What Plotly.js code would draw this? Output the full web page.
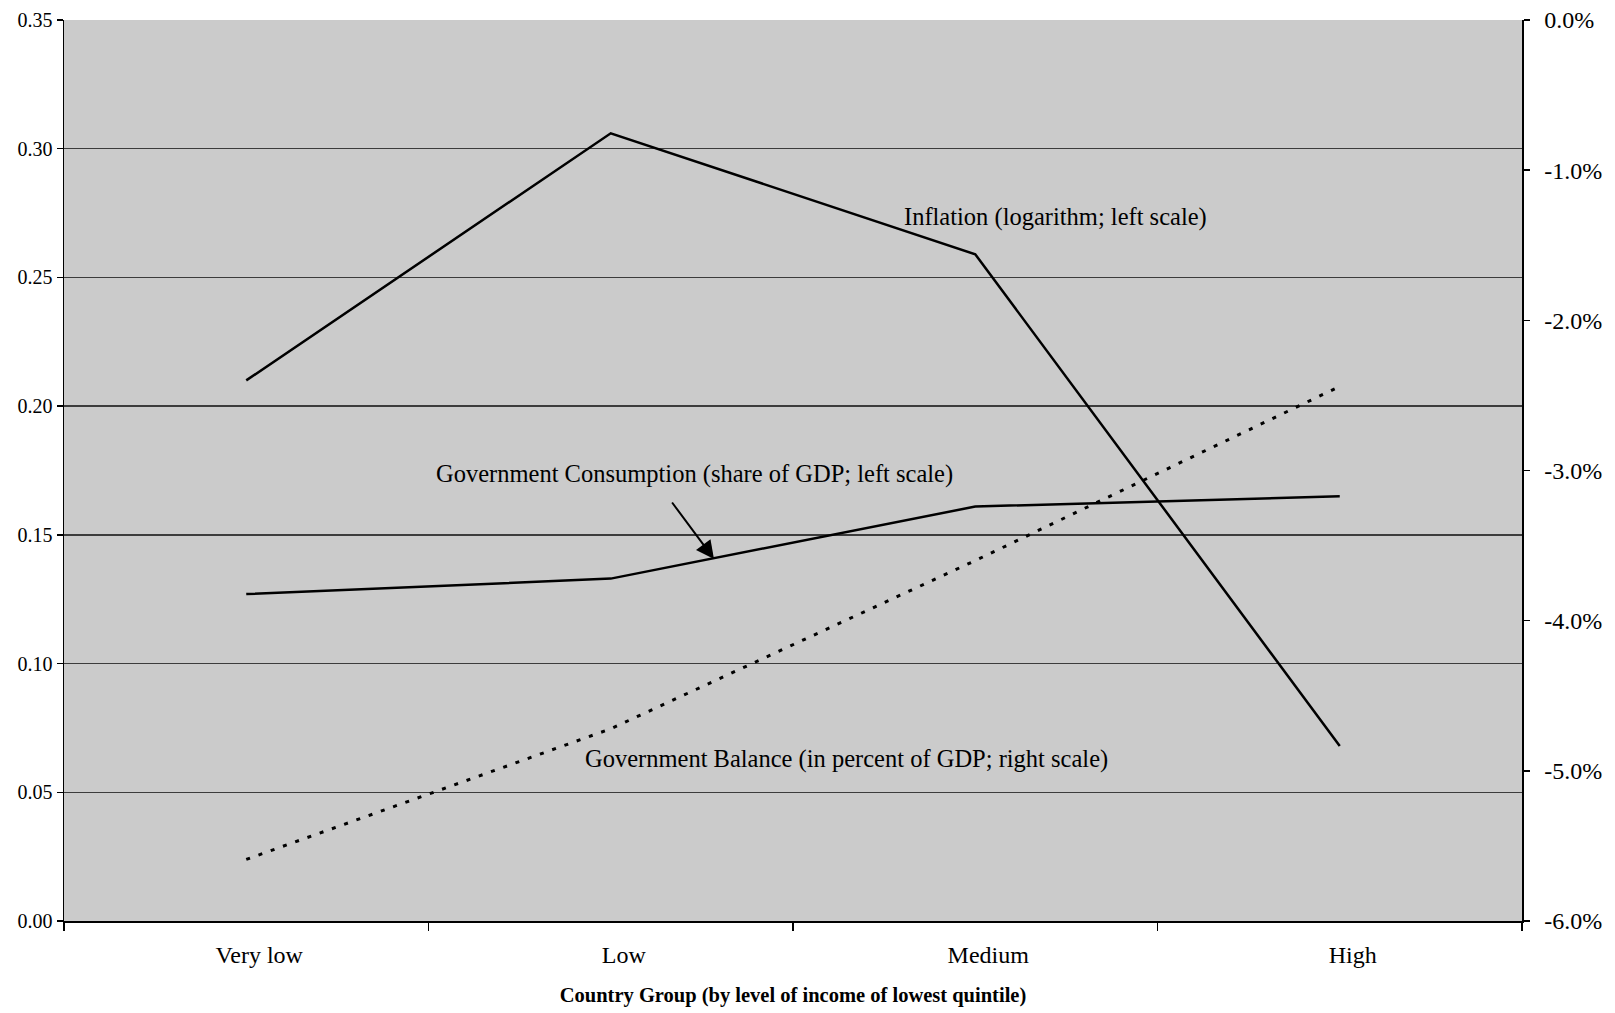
<!DOCTYPE html>
<html>
<head>
<meta charset="utf-8">
<script src="https://cdn.plot.ly/plotly-3.0.1.min.js"></script>
<style>
  html, body { margin: 0; padding: 0; background: #ffffff; }
  #chart { width: 1615px; height: 1013px; }
</style>
</head>
<body>
<div id="chart"></div>
<script>
// Country groups, ordered by income level of the lowest quintile
const categories = ['Very low', 'Low', 'Medium', 'High'];

// Left scale series
const inflation = [0.210, 0.306, 0.259, 0.068];        // logarithm of inflation
const govConsumption = [0.127, 0.133, 0.161, 0.165];   // share of GDP

// Right scale series (percent of GDP)
const govBalance = [-5.59, -4.72, -3.60, -2.44];

// Axis ticks
const leftTickVals = [0, 0.05, 0.10, 0.15, 0.20, 0.25, 0.30, 0.35];
const leftTickText = ['0.00', '0.05', '0.10', '0.15', '0.20', '0.25', '0.30', '0.35'];
const rightTickVals = [-6, -5, -4, -3, -2, -1, 0];
const rightTickText = ['-6.0%', '-5.0%', '-4.0%', '-3.0%', '-2.0%', '-1.0%', '0.0%'];

const serif = 'Liberation Serif, Times New Roman, serif';

const traces = [
  {
    x: categories, y: inflation, type: 'scatter', mode: 'lines',
    name: 'Inflation (logarithm; left scale)',
    line: { color: '#000000', width: 2.5 }, yaxis: 'y'
  },
  {
    x: categories, y: govConsumption, type: 'scatter', mode: 'lines',
    name: 'Government Consumption (share of GDP; left scale)',
    line: { color: '#000000', width: 2.5 }, yaxis: 'y'
  },
  {
    x: categories, y: govBalance, type: 'scatter', mode: 'lines',
    name: 'Government Balance (in percent of GDP; right scale)',
    line: { color: '#000000', width: 3, dash: '4px,9px' }, yaxis: 'y2'
  }
];

// Free-standing series labels, placed in plot-area fractions
const labelFont = { family: serif, size: 24.5, color: '#000000' };
function seriesLabel(text, x, y) {
  return { text: text, xref: 'paper', yref: 'paper', x: x, y: y,
           xanchor: 'center', yanchor: 'middle', showarrow: false, font: labelFont };
}

const layout = {
  width: 1615, height: 1013,
  margin: { l: 64, r: 93, t: 20, b: 92 },
  paper_bgcolor: '#ffffff',
  plot_bgcolor: '#cbcbcb',
  showlegend: false,
  font: { family: serif, color: '#000000' },
  xaxis: {
    type: 'category', range: [-0.5, 3.5],
    showline: true, linecolor: '#000000', linewidth: 1.5,
    ticks: 'outside', tickson: 'boundaries', ticklen: 8, tickcolor: '#000000', tickwidth: 1.5,
    showgrid: false, zeroline: false,
    tickfont: { family: serif, size: 24, color: '#000000' },
    ticklabelshift: 13, ticklabelstandoff: 12,
    title: { text: '<b>Country Group (by level of income of lowest quintile)</b>',
             font: { family: serif, size: 20.5, color: '#000000' }, standoff: 20 }
  },
  yaxis: {
    range: [0, 0.35], tickmode: 'array', tickvals: leftTickVals, ticktext: leftTickText,
    showline: true, linecolor: '#000000', linewidth: 1.5,
    ticks: 'outside', ticklen: 6, tickcolor: '#000000', tickwidth: 1.5,
    showgrid: true, gridcolor: '#3c3c3c', gridwidth: 1.3, zeroline: false,
    tickfont: { family: serif, size: 20, color: '#000000' }
  },
  yaxis2: {
    overlaying: 'y', side: 'right', range: [-6, 0],
    tickmode: 'array', tickvals: rightTickVals, ticktext: rightTickText,
    showline: true, linecolor: '#000000', linewidth: 1.5,
    ticks: 'outside', ticklen: 6, tickcolor: '#000000', tickwidth: 1.5,
    ticklabelstandoff: 10,
    showgrid: false, zeroline: false,
    tickfont: { family: serif, size: 24, color: '#000000' }
  },
  annotations: [
    seriesLabel('Inflation (logarithm; left scale)', 0.680, 0.781),
    seriesLabel('Government Consumption (share of GDP; left scale)', 0.4324, 0.4964),
    seriesLabel('Government Balance (in percent of GDP; right scale)', 0.5366, 0.1803),
    { text: '', xref: 'paper', yref: 'paper', x: 0.4458, y: 0.4018,
      showarrow: true, ax: -43, ay: -58, arrowhead: 2, arrowsize: 1.8, arrowwidth: 2,
      arrowcolor: '#000000' }
  ]
};

Plotly.newPlot('chart', traces, layout, { staticPlot: true, displayModeBar: false });
</script>
</body>
</html>
